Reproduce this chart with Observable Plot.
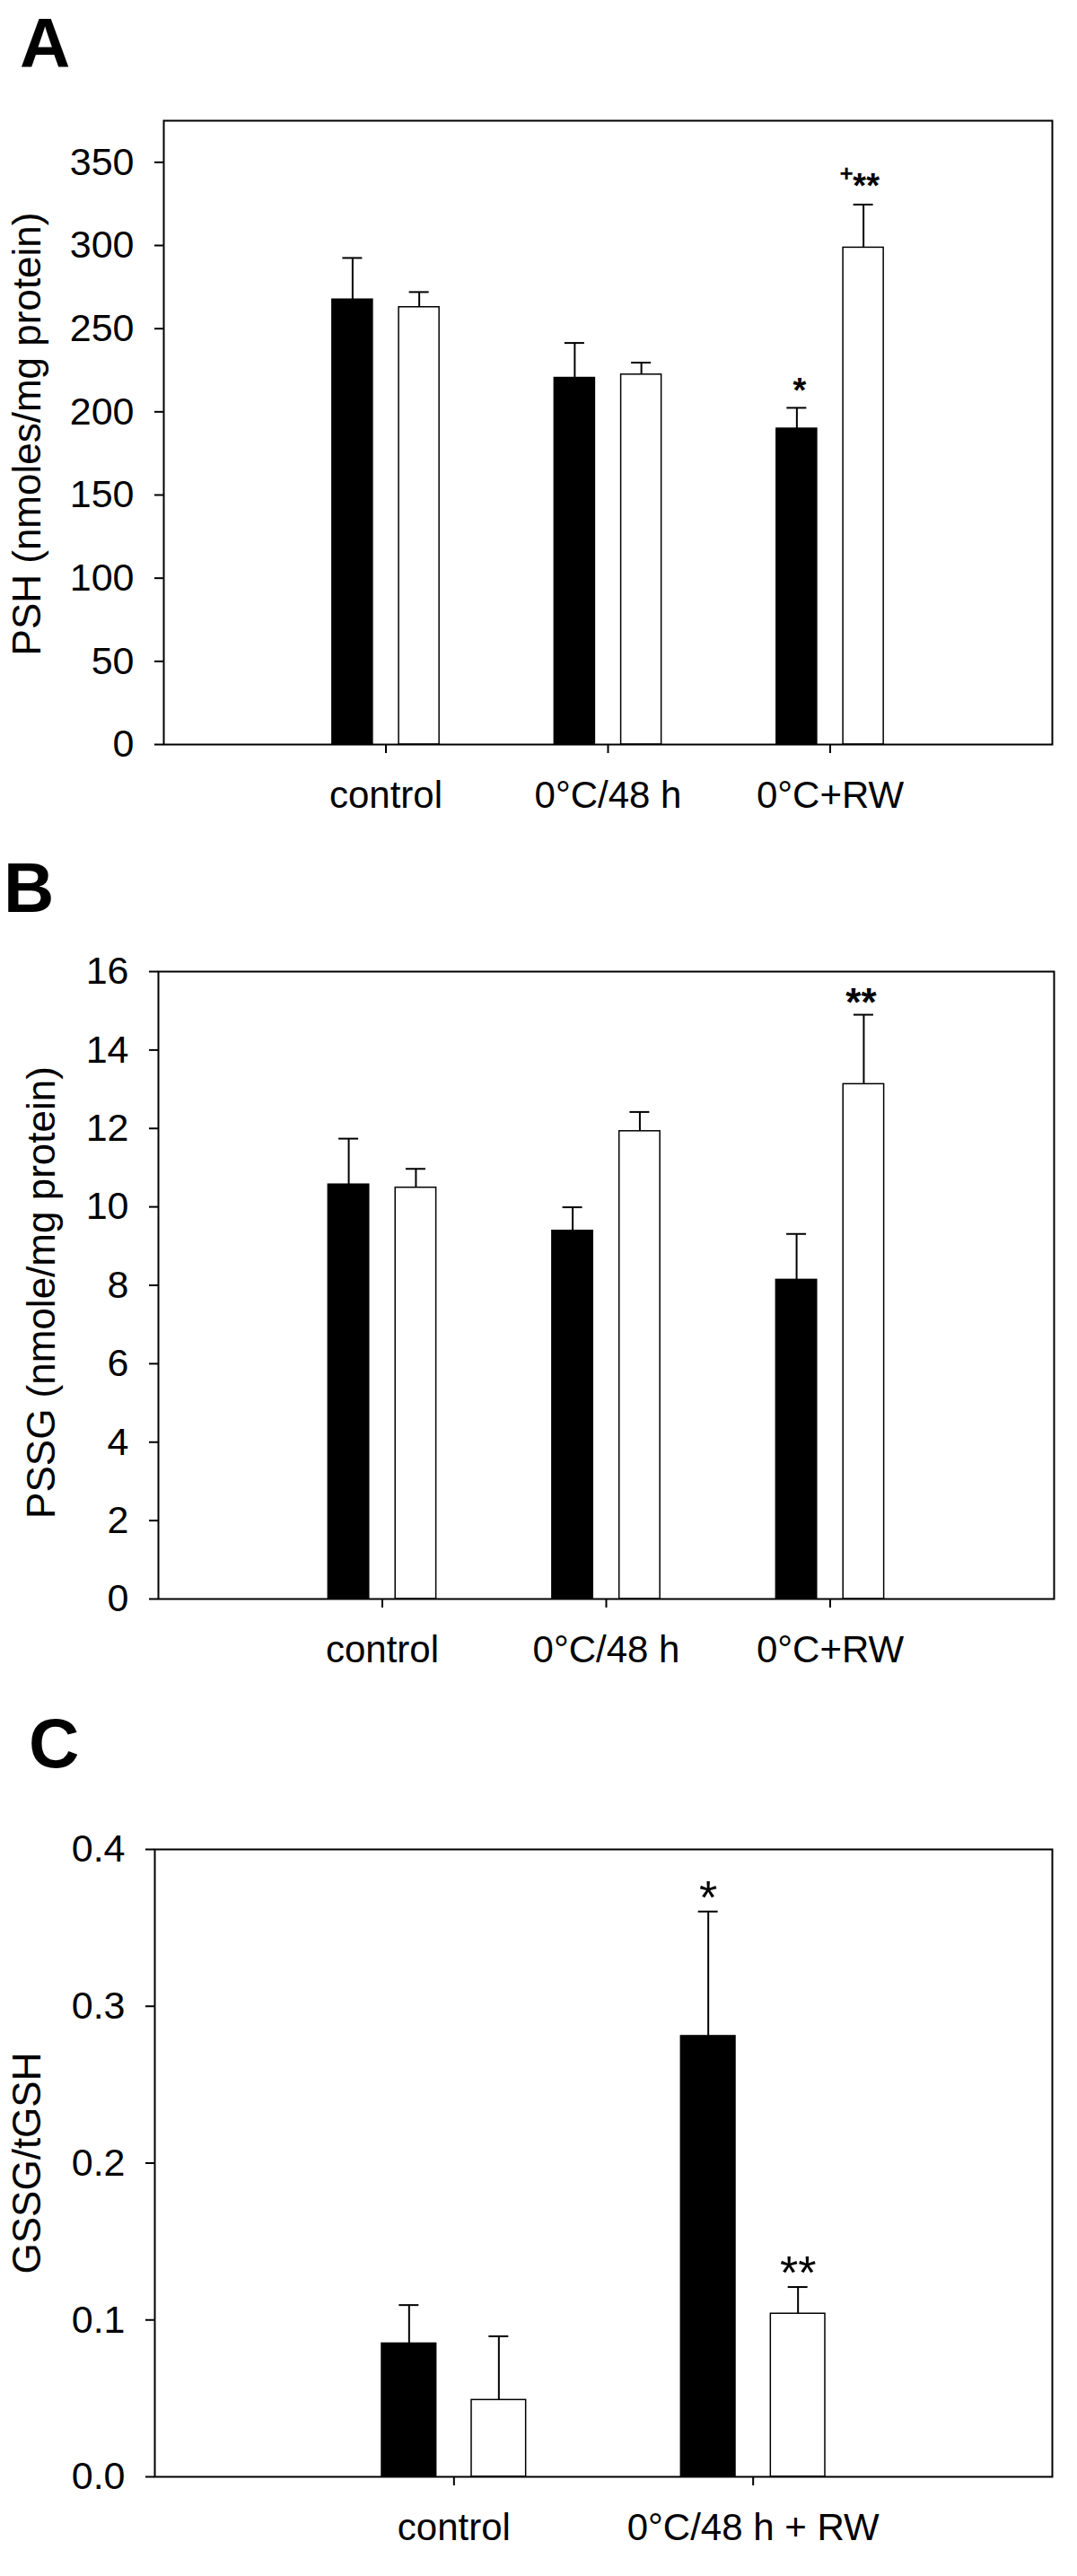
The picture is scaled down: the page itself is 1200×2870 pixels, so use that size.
<!DOCTYPE html>
<html>
<head>
<meta charset="utf-8">
<script src="https://cdn.jsdelivr.net/npm/d3@7"></script>
<script src="https://cdn.jsdelivr.net/npm/@observablehq/plot@0.6"></script>
<style>
  html, body { margin: 0; padding: 0; background: #fff; }
  body { width: 1200px; height: 2870px; position: relative; font-family: "Liberation Sans", Arial, sans-serif; }
  .panel { position: absolute; left: 0; }
  .letter { position: absolute; font-weight: bold; font-size: 78px; line-height: 78px; color: #000; }
</style>
</head>
<body>
<div class="letter" style="left:22px;top:9px">A</div>
<div class="letter" style="left:4px;top:950px">B</div>
<div class="letter" style="left:32px;top:1903px">C</div>
<div id="pa" class="panel" style="top:80px"></div>
<div id="pb" class="panel" style="top:1030px"></div>
<div id="pc" class="panel" style="top:2000px"></div>
<script>
// ---------- data ----------
const groupsAB = ["control", "0°C/48 h", "0°C+RW"];
const groupsC = ["control", "0°C/48 h + RW"];

// Panel A: PSH (nmoles/mg protein)
const pshBlack = [267.5, 220.4, 189.9];
const pshBlackErr = [25.0, 21.0, 12.5];
const pshWhite = [262.9, 222.4, 298.7];
const pshWhiteErr = [9.1, 7.2, 25.9];
const pshTicks = [0, 50, 100, 150, 200, 250, 300, 350];

// Panel B: PSSG (nmole/mg protein)
const pssgBlack = [10.57, 9.39, 8.14];
const pssgBlackErr = [1.17, 0.60, 1.17];
const pssgWhite = [10.49, 11.93, 13.13];
const pssgWhiteErr = [0.48, 0.49, 1.77];
const pssgTicks = [0, 2, 4, 6, 8, 10, 12, 14, 16];

// Panel C: GSSG/tGSH
const ratioBlack = [0.085, 0.281];
const ratioBlackErr = [0.0245, 0.0794];
const ratioWhite = [0.049, 0.104];
const ratioWhiteErr = [0.0406, 0.017];
const ratioTicks = [0, 0.1, 0.2, 0.3, 0.4];

// significance marks: group index (1-based), series (-1 black, +1 white), y position, text
const pshStars = [{g: 3, s: -1, y: 217.3, t: "*"}, {g: 3, s: 1, y: 340.3, t: "**"}];
const pshPlus = [{g: 3, s: 1, y: 343.8, t: "+"}];
const pssgStars = [{g: 3, s: 1, y: 15.44, t: "**"}];
const ratioStars = [{g: 2, s: -1, y: 0.376, t: "*"}, {g: 2, s: 1, y: 0.137, t: "**"}];

// ---------- drawing ----------
const FONT = "'Liberation Sans', Arial, Helvetica, sans-serif";
const OFF = 0.15;   // series offset from group centre (in group steps)
const HW = 0.091;   // half bar width (in group steps)

function rowsFor(groups, vals, errs, s) {
  return groups.map((name, i) => ({g: i + 1, s, v: vals[i], e: errs[i]}));
}

function panel(o) {
  const blackRows = rowsFor(o.groups, o.black, o.blackErr, -1);
  const whiteRows = rowsFor(o.groups, o.white, o.whiteErr, 1);
  const all = blackRows.concat(whiteRows);
  const cx = d => d.g + d.s * OFF;
  const marks = [
    Plot.rectY(blackRows, {x1: d => cx(d) - HW, x2: d => cx(d) + HW, y1: 0, y2: "v", fill: "black", stroke: "black", strokeWidth: 1.5}),
    Plot.rectY(whiteRows, {x1: d => cx(d) - HW, x2: d => cx(d) + HW, y1: 0, y2: "v", fill: "white", stroke: "black", strokeWidth: 1.5}),
    Plot.ruleX(all, {x: cx, y1: "v", y2: d => d.v + d.e, stroke: "black", strokeWidth: 2}),
    Plot.ruleY(all, {y: d => d.v + d.e, x1: cx, x2: cx, insetLeft: -11, insetRight: -11, stroke: "black", strokeWidth: 2}),
    Plot.frame({stroke: "black", strokeWidth: 2}),
    Plot.axisY({ticks: o.ticks, tickFormat: o.tickFormat, tickSize: 10, tickPadding: 23, fontSize: 43, strokeWidth: 2, label: null, fill: "black"}),
    Plot.axisX({ticks: o.groups.map((_, i) => i + 1), tickFormat: i => o.groups[i - 1], tickSize: 10, tickPadding: 31, fontSize: 42, strokeWidth: 2, label: null, fill: "black"}),
    Plot.text([o.label], {text: d => d, frameAnchor: "left", rotate: -90, lineAnchor: "top", textAnchor: "middle", dx: o.labelX - o.marginLeft, dy: o.labelDy, fontSize: 44, fill: "black"}),
    Plot.text(o.stars, {x: cx, y: "y", text: "t", fontSize: o.starSize, fontWeight: o.starWeight, lineAnchor: "middle", dx: o.starDx || 0, dy: 0.25 * o.starSize, fill: "black"})
  ];
  if (o.plus) {
    marks.push(Plot.text(o.plus, {x: cx, y: "y", text: "t", fontSize: 26, fontWeight: "bold", lineAnchor: "middle", dx: -19, dy: 1, fill: "black"}));
  }
  return Plot.plot({
    width: 1200,
    height: o.height,
    marginLeft: o.marginLeft,
    marginRight: o.marginRight,
    marginTop: o.marginTop,
    marginBottom: o.marginBottom,
    style: {fontFamily: FONT, background: "white", color: "black", overflow: "visible"},
    x: {type: "linear", domain: [0, o.groups.length + 1], axis: null},
    y: {type: "linear", domain: [0, o.yMax], axis: null},
    marks
  });
}

document.getElementById("pa").appendChild(panel({
  groups: groupsAB, black: pshBlack, blackErr: pshBlackErr, white: pshWhite, whiteErr: pshWhiteErr,
  ticks: pshTicks, tickFormat: d3.format("d"), yMax: 375,
  label: "PSH (nmoles/mg protein)", labelX: 13, labelDy: 1.5,
  stars: pshStars, starSize: 38, starWeight: "bold", starDx: 3, plus: pshPlus,
  height: 870, marginTop: 54, marginBottom: 121, marginLeft: 182, marginRight: 28
}));

document.getElementById("pb").appendChild(panel({
  groups: groupsAB, black: pssgBlack, blackErr: pssgBlackErr, white: pssgWhite, whiteErr: pssgWhiteErr,
  ticks: pssgTicks, tickFormat: d3.format("d"), yMax: 16,
  label: "PSSG (nmole/mg protein)", labelX: 29, labelDy: 8,
  stars: pssgStars, starSize: 44, starWeight: "bold", starDx: -3,
  height: 870, marginTop: 52, marginBottom: 119, marginLeft: 176, marginRight: 26
}));

document.getElementById("pc").appendChild(panel({
  groups: groupsC, black: ratioBlack, blackErr: ratioBlackErr, white: ratioWhite, whiteErr: ratioWhiteErr,
  ticks: ratioTicks, tickFormat: d3.format(".1f"), yMax: 0.4,
  label: "GSSG/tGSH", labelX: 13, labelDy: 0,
  stars: ratioStars, starSize: 52, starWeight: "normal", starDx: 0,
  height: 870, marginTop: 60, marginBottom: 111, marginLeft: 172, marginRight: 28
}));
</script>
</body>
</html>
